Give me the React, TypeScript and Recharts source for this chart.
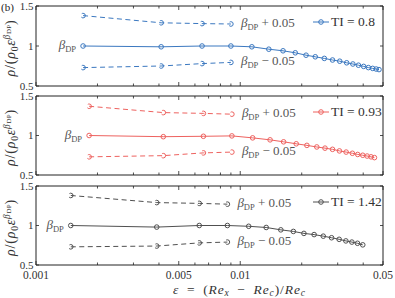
import React from 'react';
import { LineChart, Line, XAxis, YAxis, ReferenceDot, Legend } from 'recharts';

const FONT = '"Liberation Serif", "Times New Roman", serif';
const W = 395;
const H = 298;

const xTicks = [0.001, 0.002, 0.003, 0.004, 0.005, 0.006, 0.007, 0.008, 0.009, 0.01, 0.02, 0.03, 0.04, 0.05];
const xLabelTicks = [0.001, 0.005, 0.01, 0.05];
const yTicks = [0.5, 1, 1.5];

// TI = 0.8 (blue)
const epsTI08 = [0.0017, 0.0041, 0.0065, 0.009, 0.0114, 0.0138, 0.0162, 0.0186, 0.021, 0.0233, 0.0258, 0.0283, 0.0307, 0.0332, 0.0356, 0.0379, 0.0402, 0.0424, 0.0445, 0.0463, 0.0478];
const rhoTI08 = [1.0, 0.99, 1.0, 1.0, 0.99, 0.96, 0.94, 0.915, 0.885, 0.865, 0.845, 0.825, 0.81, 0.79, 0.775, 0.76, 0.745, 0.73, 0.72, 0.712, 0.705];
const upTI08 = [1.38, 1.29, 1.28, 1.275];
const loTI08 = [0.73, 0.75, 0.78, 0.795];

// TI = 0.93 (red)
const epsTI093 = [0.00182, 0.0042, 0.0066, 0.0091, 0.0115, 0.014, 0.0163, 0.0188, 0.0212, 0.0237, 0.026, 0.0283, 0.0306, 0.033, 0.0354, 0.0376, 0.0398, 0.0418, 0.0437, 0.0454];
const rhoTI093 = [1.0, 0.985, 0.99, 0.995, 0.97, 0.945, 0.92, 0.895, 0.875, 0.855, 0.84, 0.825, 0.805, 0.79, 0.775, 0.76, 0.75, 0.74, 0.73, 0.72];
const upTI093 = [1.37, 1.29, 1.28, 1.27];
const loTI093 = [0.73, 0.745, 0.78, 0.79];

// TI = 1.42 (gray)
const epsTI142 = [0.00148, 0.0039, 0.0063, 0.00865, 0.011, 0.0134, 0.0158, 0.0182, 0.0205, 0.023, 0.0255, 0.028, 0.0305, 0.0329, 0.0352, 0.0375, 0.0398];
const rhoTI142 = [1.0, 0.98, 1.0, 1.0, 0.99, 0.975, 0.945, 0.925, 0.9, 0.885, 0.865, 0.845, 0.825, 0.805, 0.79, 0.775, 0.755];
const upTI142 = [1.38, 1.29, 1.28, 1.27];
const loTI142 = [0.73, 0.74, 0.78, 0.79];

type Row = { eps: number; rho: number; up?: number; lo?: number };

function buildRows(eps: number[], rho: number[], up: number[], lo: number[]): Row[] {
  return eps.map((e, i) => ({
    eps: e,
    rho: rho[i],
    up: i < up.length ? up[i] : undefined,
    lo: i < lo.length ? lo[i] : undefined,
  }));
}

const BottomTick = (props: any) => {
  const { x, y, payload, showLabel } = props;
  const v = payload.value;
  const major = xLabelTicks.includes(v);
  return (
    <g>
      <line x1={x} x2={x} y1={y} y2={y - (major ? 4 : 2.5)} stroke="#222" strokeWidth={0.8} />
      {showLabel && major ? (
        <text x={x} y={y + 13.5} textAnchor="middle" fontFamily={FONT} fontSize={11.5} fill="#333">
          {String(v)}
        </text>
      ) : null}
    </g>
  );
};

const TopTick = (props: any) => {
  const { x, y, payload } = props;
  const major = xLabelTicks.includes(payload.value);
  return <line x1={x} x2={x} y1={y} y2={y + (major ? 4 : 2.5)} stroke="#222" strokeWidth={0.8} />;
};

const LeftTick = (props: any) => {
  const { x, y, payload } = props;
  return (
    <g>
      <line x1={x} x2={x + 3} y1={y} y2={y} stroke="#222" strokeWidth={0.8} />
      <text x={x - 2.5} y={y + 3.5} textAnchor="end" fontFamily={FONT} fontSize={11} fill="#333">
        {String(payload.value)}
      </text>
    </g>
  );
};

const RightTick = (props: any) => {
  const { x, y } = props;
  return <line x1={x} x2={x - 3} y1={y} y2={y} stroke="#222" strokeWidth={0.8} />;
};

const makeYLabel = (withB: boolean) => (props: any) => {
  const vb = props.viewBox || { x: 0, y: 0, width: 0, height: 0 };
  const cx = 15;
  const cy = vb.y + vb.height / 2 + 2;
  return (
    <g>
      <text
        transform={`translate(${cx},${cy}) rotate(-90)`}
        textAnchor="middle"
        fontFamily={FONT}
        fontSize={14}
        fill="#333"
        letterSpacing={0.8}
      >
        <tspan fontStyle="italic">ρ</tspan>
        <tspan>/(</tspan>
        <tspan fontStyle="italic">ρ</tspan>
        <tspan fontSize={9.5} dy={3}>0</tspan>
        <tspan fontStyle="italic" dy={-3}>ε</tspan>
        <tspan fontSize={9.5} fontStyle="italic" dy={-5.5}>β</tspan>
        <tspan fontSize={7} dy={1.5} letterSpacing={0}>DP</tspan>
        <tspan dy={4}>)</tspan>
      </text>
      {withB ? (
        <text x={1} y={11} fontFamily={FONT} fontSize={11} fill="#222">(b)</text>
      ) : null}
    </g>
  );
};

const XLabel = (props: any) => {
  const vb = props.viewBox || { x: 0, y: 0, width: 0, height: 0 };
  const cx = vb.x + vb.width / 2 + 30;
  const y = vb.y + 28.5;
  return (
    <text x={cx} y={y} textAnchor="middle" fontFamily={FONT} fontSize={13.5} fill="#333" letterSpacing={0.9}>
      <tspan fontStyle="italic">ε</tspan>
      <tspan>{'\u2002=\u2002('}</tspan>
      <tspan fontStyle="italic">Re</tspan>
      <tspan fontStyle="italic" fontSize={9.5} dy={2.5}>x</tspan>
      <tspan dy={-2.5}>{'\u2002\u2212\u2002'}</tspan>
      <tspan fontStyle="italic">Re</tspan>
      <tspan fontStyle="italic" fontSize={9.5} dy={2.5}>c</tspan>
      <tspan dy={-2.5}>)/</tspan>
      <tspan fontStyle="italic">Re</tspan>
      <tspan fontStyle="italic" fontSize={9.5} dy={2.5}>c</tspan>
    </text>
  );
};

const BetaText = ({ x, y, anchor, suffix }: { x: number; y: number; anchor: 'start' | 'end'; suffix: string }) => (
  <text x={x} y={y} textAnchor={anchor} fontFamily={FONT} fontSize={13} fill="#555">
    <tspan fontStyle="italic">β</tspan>
    <tspan fontSize={8.5} dy={3}>DP</tspan>
    <tspan dy={-3}>{suffix}</tspan>
  </text>
);

const LegendContent = ({ color, ti }: { color: string; ti: string }) => (
  <div style={{ display: 'flex', alignItems: 'center', fontFamily: FONT, fontSize: 13.5, color: '#333', lineHeight: '14px', whiteSpace: 'nowrap' }}>
    <svg width={16} height={8} style={{ display: 'block' }}>
      <line x1={0} y1={4} x2={16} y2={4} stroke={color} strokeWidth={1} />
      <circle cx={8} cy={4} r={2.3} fill="none" stroke={color} strokeWidth={1} />
    </svg>
    <span style={{ marginLeft: 2 }}>TI = {ti}</span>
  </div>
);

type PanelProps = {
  rows: Row[];
  nDash: number;
  color: string;
  ti: string;
  top: number;
  bottom: number;
  showX: boolean;
  showB: boolean;
};

function Panel({ rows, nDash, color, ti, top, bottom, showX, showB }: PanelProps) {
  const topAxisH = 1;
  const bottomAxisH = 20;
  const margin = { top: top - topAxisH, bottom: H - bottom - bottomAxisH, left: 0, right: 0 };
  const first = rows[0];
  const lastDash = rows[nDash - 1];
  const dot = { r: 2.3, fill: 'none', stroke: color, strokeWidth: 1 };
  return (
    <div style={{ position: 'absolute', left: 0, top: 0, width: W, height: H }}>
      <LineChart width={W} height={H} data={rows} margin={margin}>
        <XAxis
          dataKey="eps"
          type="number"
          scale="log"
          domain={[0.001, 0.05]}
          allowDataOverflow
          ticks={xTicks}
          interval={0}
          height={bottomAxisH}
          tickSize={0}
          tickMargin={0}
          tickLine={false}
          axisLine={{ stroke: '#222', strokeWidth: 1 }}
          tick={(p: any) => <BottomTick {...p} showLabel={showX} />}
          label={showX ? XLabel : undefined}
        />
        <XAxis
          xAxisId="top"
          orientation="top"
          dataKey="eps"
          type="number"
          scale="log"
          domain={[0.001, 0.05]}
          allowDataOverflow
          ticks={xTicks}
          interval={0}
          height={topAxisH}
          tickSize={0}
          tickMargin={0}
          tickLine={false}
          axisLine={{ stroke: '#222', strokeWidth: 1 }}
          tick={TopTick}
        />
        <YAxis
          type="number"
          domain={[0.5, 1.5]}
          allowDataOverflow
          ticks={yTicks}
          interval={0}
          width={36}
          tickSize={0}
          tickMargin={0}
          tickLine={false}
          axisLine={{ stroke: '#222', strokeWidth: 1 }}
          tick={LeftTick}
          label={makeYLabel(showB)}
        />
        <YAxis
          yAxisId="right"
          orientation="right"
          type="number"
          domain={[0.5, 1.5]}
          allowDataOverflow
          ticks={yTicks}
          interval={0}
          width={12}
          tickSize={0}
          tickMargin={0}
          tickLine={false}
          axisLine={{ stroke: '#222', strokeWidth: 1 }}
          tick={RightTick}
        />
        <Line dataKey="up" stroke={color} strokeWidth={1} strokeDasharray="5 3.5" dot={dot} activeDot={false} isAnimationActive={false} legendType="none" />
        <Line dataKey="lo" stroke={color} strokeWidth={1} strokeDasharray="5 3.5" dot={dot} activeDot={false} isAnimationActive={false} legendType="none" />
        <Line dataKey="rho" stroke={color} strokeWidth={1} dot={dot} activeDot={false} isAnimationActive={false} />
        <ReferenceDot
          x={first.eps}
          y={first.rho}
          r={0}
          fill="none"
          stroke="none"
          label={(p: any) => <BetaText x={p.viewBox.x - 7} y={p.viewBox.y + 3} anchor="end" suffix="" />}
        />
        <ReferenceDot
          x={lastDash.eps}
          y={lastDash.up as number}
          r={0}
          fill="none"
          stroke="none"
          label={(p: any) => <BetaText x={p.viewBox.x + 10} y={p.viewBox.y + 3} anchor="start" suffix=" + 0.05" />}
        />
        <ReferenceDot
          x={lastDash.eps}
          y={lastDash.lo as number}
          r={0}
          fill="none"
          stroke="none"
          label={(p: any) => <BetaText x={p.viewBox.x + 10} y={p.viewBox.y + 3} anchor="start" suffix=" − 0.05" />}
        />
        <Legend
          layout="horizontal"
          verticalAlign="middle"
          align="center"
          wrapperStyle={{ left: 313, top: top + 9, width: 80, height: 14 }}
          content={() => <LegendContent color={color} ti={ti} />}
        />
      </LineChart>
    </div>
  );
}

const rows08 = buildRows(epsTI08, rhoTI08, upTI08, loTI08);
const rows093 = buildRows(epsTI093, rhoTI093, upTI093, loTI093);
const rows142 = buildRows(epsTI142, rhoTI142, upTI142, loTI142);

export default function App() {
  return (
    <div style={{ position: 'absolute', left: 0, top: 0, width: W, height: H, background: '#fff' }}>
      <Panel rows={rows08} nDash={upTI08.length} color="#3b78c0" ti="0.8" top={6} bottom={86} showX={false} showB={true} />
      <Panel rows={rows093} nDash={upTI093.length} color="#ee625f" ti="0.93" top={96} bottom={175} showX={false} showB={false} />
      <Panel rows={rows142} nDash={upTI142.length} color="#505050" ti="1.42" top={186} bottom={265} showX={true} showB={false} />
    </div>
  );
}
